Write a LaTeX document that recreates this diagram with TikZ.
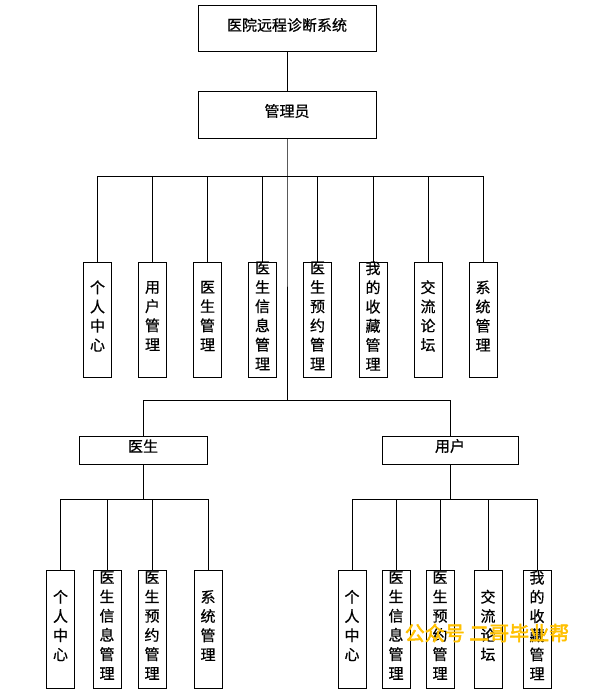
\documentclass[tikz,border=0pt]{standalone}
\usepackage{fontspec}
\newfontfamily\cjk[FakeBold=0.6]{Noto Sans CJK SC}
\newfontfamily\cjkmark[FakeBold=2.5]{Noto Sans CJK SC}
\usetikzlibrary{positioning}
\definecolor{markgold}{HTML}{FFC000}

\begin{document}
\begin{tikzpicture}[x=1pt,y=-1pt,line width=1pt,
    txt/.style={inner sep=0pt,align=center,font=\cjk\fontsize{15}{19.2}\selectfont},
    box/.style={draw,inner sep=0pt,label={[txt,yshift=4pt]center:#1}},
    leaf/.style={box={#1},minimum width=28pt,anchor=north}]
  \useasboundingbox (0,0) rectangle (604,690);
  % top levels
  \node[box=医院远程诊断系统,minimum width=178pt,minimum height=46pt] (sys) at (287,29) {};
  \node[box=管理员,minimum width=178pt,minimum height=46pt] (admin) at (287,115) {};
  \coordinate (abus) at (287,176);
  \coordinate (rbus) at (287,400);
  % admin functions
  \node[leaf={个\\人\\中\\心},minimum height=115pt] (a1) at (97.5,262) {};
  \node[leaf={用\\户\\管\\理},minimum height=115pt] (a2) at (152.5,262) {};
  \node[leaf={医\\生\\管\\理},minimum height=115pt] (a3) at (207.5,262) {};
  \node[leaf={医\\生\\信\\息\\管\\理},minimum height=115pt] (a4) at (262.5,262) {};
  \node[leaf={医\\生\\预\\约\\管\\理},minimum height=115pt] (a5) at (317.5,262) {};
  \node[leaf={我\\的\\收\\藏\\管\\理},minimum height=115pt] (a6) at (373,262) {};
  \node[leaf={交\\流\\论\\坛},minimum height=115pt] (a7) at (428,262) {};
  \node[leaf={系\\统\\管\\理},minimum height=115pt] (a8) at (483,262) {};
  % roles
  \node[box=医生,minimum width=128pt,minimum height=28pt] (doc) at (143,450) {};
  \node[box=用户,minimum width=136pt,minimum height=28pt] (usr) at (450,450) {};
  \coordinate (dbus) at (143,499);
  \coordinate (ubus) at (450,499);
  \node[leaf={个\\人\\中\\心},minimum height=118pt] (d1) at (60.5,570) {};
  \node[leaf={医\\生\\信\\息\\管\\理},minimum height=118pt] (d2) at (107,570) {};
  \node[leaf={医\\生\\预\\约\\管\\理},minimum height=118pt] (d3) at (152,570) {};
  \node[leaf={系\\统\\管\\理},minimum height=118pt] (d4) at (208,570) {};
  \node[leaf={个\\人\\中\\心},minimum height=118pt] (u1) at (352,570) {};
  \node[leaf={医\\生\\信\\息\\管\\理},minimum height=118pt] (u2) at (396,570) {};
  \node[leaf={医\\生\\预\\约\\管\\理},minimum height=118pt] (u3) at (440,570) {};
  \node[leaf={交\\流\\论\\坛},minimum height=118pt] (u4) at (488,570) {};
  \node[leaf={我\\的\\收\\藏\\管\\理},minimum height=118pt] (u5) at (537,570) {};
  % connectors
  \draw (sys) -- (admin);
  \draw (admin.south) -- (abus) -- (rbus);
  \draw (a1.north) |- (abus) (a2.north) |- (abus) (a3.north) |- (abus) (a4.north) |- (abus)
        (a5.north) |- (abus) (a6.north) |- (abus) (a7.north) |- (abus) (a8.north) |- (abus);
  \draw (doc.north) |- (rbus) (usr.north) |- (rbus);
  \draw (doc.south) -- (dbus);
  \draw (d1.north) |- (dbus) (d2.north) |- (dbus) (d3.north) |- (dbus) (d4.north) |- (dbus);
  \draw (usr.south) -- (ubus);
  \draw (u1.north) |- (ubus) (u2.north) |- (ubus) (u3.north) |- (ubus) (u4.north) |- (ubus)
        (u5.north) |- (ubus);
  \node[text=markgold,font=\cjkmark\fontsize{20}{20}\selectfont] (mark) at (487,633) {公众号 二哥毕业帮};
\end{tikzpicture}
\end{document}
